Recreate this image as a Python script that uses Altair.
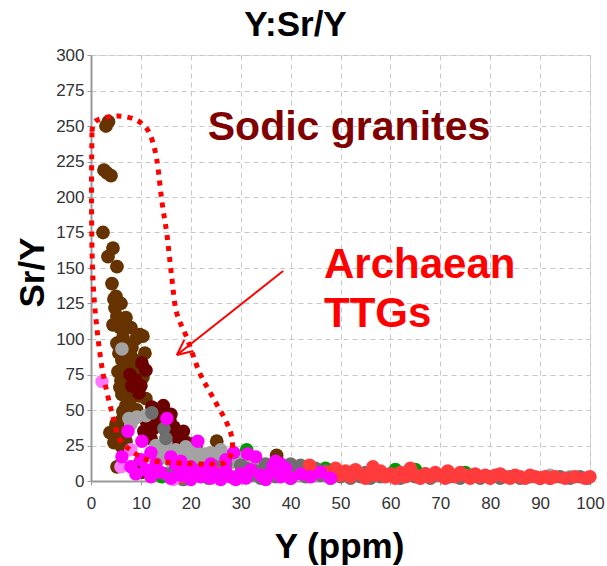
import altair as alt
import pandas as pd

FONT = "Liberation Sans"

# ---------------- data (Y ppm, Sr/Y) ----------------
brown_x = [3.5, 3.0, 3.2, 2.6, 4.0, 2.4, 4.4, 3.4, 5.2, 4.2, 4.8, 5.2, 4.4, 5.8, 9.8, 10.4, 6.4, 5.2, 8.2,
           6.2, 7.4, 5.4, 10.4, 6.6, 8.4, 6.2, 7.8, 6.4, 9.2, 6.2, 3.8, 5.8, 6.2, 5.2, 9.8, 19.2, 20.4,
           25.2, 37.2, 7.0, 8.0, 9.0, 7.0, 8.5, 11.0, 18.5, 10.2,
           5.0, 6.0, 4.6, 7.0, 6.0, 8.0, 9.0, 5.6, 7.0, 8.8, 6.8, 9.4, 7.2, 5.8, 9.6, 8.0, 7.0, 5.0,
           6.6, 4.6, 7.0, 8.0, 10.8, 6.0, 7.6]
brown_y = [253, 250, 217, 219, 215, 175, 164, 158, 151, 139, 122, 116, 110, 108, 103, 102, 101, 97, 94,
           85, 82, 77, 73, 69, 66, 61, 57, 49, 50, 43, 34, 32, 24, 10, 13, 27, 26,
           28, 18, 90, 75, 62, 53, 44, 58, 22, 6,
           130, 125, 128, 115, 112, 108, 100, 90, 96, 85, 78, 78, 70, 66, 60, 50, 47, 40,
           36, 27, 28, 88, 90, 71, 62]

maroon_x = [10.2, 7.8, 8.2, 10.0, 9.0, 12.2, 13.4, 15.8, 11.2, 14.0, 16.6, 10.6, 15.2, 17.8, 13.0, 12.0,
            17.0, 19.2, 21.0, 24.4, 26.4, 14.5, 16.0, 11.0, 9.6, 13.6, 15.0, 12.5, 16.5, 18.5]
maroon_y = [83, 75, 67, 67, 71, 52, 48, 43, 41, 39, 38, 35, 33, 32, 45, 30,
            27, 26, 24, 20, 18, 53, 47, 78, 62, 40, 36, 37, 30, 35]

lgray_x = [6.2, 9.2, 7.6, 8.0, 11.0, 13, 14, 15, 16, 17, 18, 19, 20, 21, 22, 23, 24, 25, 26, 27, 28, 29,
           30, 31, 32, 33, 34, 35, 36, 12, 14, 16, 18, 20, 22, 24, 26, 19, 23, 30, 40, 96, 92]
lgray_y = [93, 45, 44, 40, 46, 25, 22, 27, 20, 22, 19, 24, 18, 21, 17, 19, 15, 18, 14, 16, 13, 15,
           12, 14, 11, 13, 12, 10, 11, 18, 16, 14, 17, 14, 13, 20, 22, 12, 11, 16, 4, 3, 4]

dgray_x = [12.2, 14.6, 15, 13, 15, 17, 19, 21, 22, 24, 26, 28, 30, 31, 32, 33, 34, 35, 36, 37, 38, 39,
           40, 41, 42, 43, 44, 45, 46, 47, 48, 49, 50, 51, 52, 53, 54, 55, 56, 57, 58, 60, 62, 63, 65,
           67, 68, 70, 72, 74, 76, 78, 80, 82, 84, 86, 88, 90, 92, 94, 96, 98, 99.5, 30, 27, 25, 35,
           36, 40, 42, 44, 23.5, 18.5]
dgray_y = [48, 37, 30, 8, 5, 9, 6, 4, 8, 5, 7, 3, 6, 9, 4, 7, 2, 5, 8, 3, 6, 10,
           2, 5, 8, 3, 6, 9, 4, 7, 2, 5, 3, 6, 2, 5, 3, 6, 2, 4, 3, 5, 2, 4, 3,
           5, 2, 4, 3, 2, 4, 2, 3, 2, 3, 2, 3, 2, 2, 3, 2, 3, 2, 11, 12, 10, 12,
           9, 12, 11, 10, 2, 1]

pink_x = [2.2, 6.0, 8.0, 24.0, 16.5]
pink_y = [70, 10, 22, 4, 1]

magenta_x = [7.4, 6.2, 15.2, 10.2, 21.4, 28.6, 31.4, 33, 38, 8, 9, 10, 11, 12, 13, 14, 16, 17, 18, 19,
             20, 21, 22, 23, 24, 25, 26, 27, 28, 29, 30, 31, 32, 34, 35, 36, 37, 38, 39, 40, 42, 44,
             46, 48, 12, 16, 20, 24, 27, 18, 36.5]
magenta_y = [35, 17, 44, 28, 28, 20, 19, 17, 12, 10, 5, 15, 8, 3, 12, 6, 2, 11, 4, 8,
             1, 6, 3, 9, 2, 5, 1, 7, 3, 1, 5, 2, 8, 4, 1, 6, 14, 3, 9, 2, 5, 3,
             6, 2, 20, 17, 10, 12, 15, 14, 11]

red_x = [18, 25, 43.8, 47, 49, 50, 51, 52, 53, 54, 55, 56, 57, 58, 59, 60, 61, 62, 63, 64, 65, 66, 67,
         68, 69, 70, 71, 72, 73, 74, 75, 76, 77, 78, 79, 80, 81, 82, 83, 84, 85, 86, 87, 88, 89, 90,
         91, 92, 93, 95, 97, 99, 100, 64, 56.5, 71.5]
red_y = [3, 6, 11, 6, 9, 4, 7, 3, 8, 5, 2, 6, 4, 7, 3, 5, 2, 6, 3, 7, 4, 2, 5,
         3, 6, 4, 2, 5, 3, 6, 4, 2, 5, 3, 4, 2, 4, 5, 3, 2, 4, 3, 2, 4, 3, 2,
         3, 2, 3, 2, 3, 2, 3, 9, 10, 7]

green_x = [31.2, 14.2, 47, 61, 75, 48, 16, 65]
green_y = [22, 3, 9, 8, 6, 5, 5, 8]

group_names = ["brown", "maroon", "green", "lightgray", "darkgray", "red", "pink", "magenta"]
group_colors = ["#663300", "#6b0000", "#009900", "#a3a3a3", "#6e6e6e", "#ff3b3b", "#ff77ff", "#ff00ff"]
group_sizes = [190, 180, 45, 90, 60, 40, 50, 50]
group_data = [(brown_x, brown_y), (maroon_x, maroon_y), (green_x, green_y), (lgray_x, lgray_y),
              (dgray_x, dgray_y), (red_x, red_y), (pink_x, pink_y), (magenta_x, magenta_y)]

# dotted outline around the Archaean TTG field (data units)
outline_x = [0.2, 0.8, 5.2, 9.2, 11.4, 12.8, 13.4, 14.2, 15.2, 16.2, 17.2, 19.2, 21.8, 24.4, 27.2, 28.2,
             28.2, 26.8, 23.2, 16.4, 11.2, 7.8, 5.8, 4.2, 2.4, 1.2, 0.4, 0.1, 0.2]
outline_y = [246, 253, 257, 254, 247, 233, 221, 197, 174, 143, 118, 101, 76, 59, 41, 31,
             20, 13, 12, 13, 15, 22, 29, 48, 76, 107, 141, 200, 246]

# arrow (shaft and two head strokes), data units
arrow_x1 = [38.5, 17.2, 17.2]
arrow_y1 = [147.9, 88.7, 88.7]
arrow_x2 = [17.2, 18.7, 20.5]
arrow_y2 = [88.7, 99.4, 91.5]

label_text = ["Sodic granites", "Archaean", "TTGs"]
label_x = [23.4, 46.7, 46.7]
label_y = [240, 143, 108.5]

x_ticks = [0, 10, 20, 30, 40, 50, 60, 70, 80, 90, 100]
y_ticks = [0, 25, 50, 75, 100, 125, 150, 175, 200, 225, 250, 275, 300]

# ---------------- tables ----------------
rows = []
for rank, (g, (xs, ys)) in enumerate(zip(group_names, group_data)):
    for xv, yv in zip(xs, ys):
        rows.append({"Y": xv, "SrY": yv, "group": g, "rank": rank})
pts = pd.DataFrame(rows)
outline_df = pd.DataFrame({"Y": outline_x, "SrY": outline_y, "i": list(range(len(outline_x)))})
arrow_df = pd.DataFrame({"Y": arrow_x1, "SrY": arrow_y1, "Y2": arrow_x2, "SrY2": arrow_y2})
label_df = pd.DataFrame({"Y": label_x, "SrY": label_y, "text": label_text})

x_scale = alt.Scale(domain=[0, 100], nice=False, zero=False)
y_scale = alt.Scale(domain=[0, 300], nice=False, zero=False)

common_axis = dict(labelFont=FONT, labelFontSize=17, labelColor="#333333", tickSize=4, tickColor="#999999",
                   domainColor="#999999", domainWidth=2, gridColor="#c8c8c8", gridDash=[5, 4],
                   titleFont=FONT, titleFontSize=35, titleFontWeight="bold", titleColor="#000000",
                   labelOverlap=False, labelFlush=False)
x_axis = alt.Axis(values=x_ticks, labelPadding=10, titleX=248, titleY=76, titleBaseline="alphabetic",
                  titleAlign="center", **common_axis)
y_axis = alt.Axis(values=y_ticks, labelPadding=3, titleX=-48, titleY=217, titleAngle=270,
                  titleBaseline="alphabetic", titleAlign="center", **common_axis)

X = alt.X("Y:Q", scale=x_scale, axis=x_axis, title="Y (ppm)")
Yc = alt.Y("SrY:Q", scale=y_scale, axis=y_axis, title="Sr/Y")

points = alt.Chart(pts).mark_circle(opacity=1).encode(
    x=X, y=Yc,
    color=alt.Color("group:N", scale=alt.Scale(domain=group_names, range=group_colors), legend=None),
    size=alt.Size("group:N", scale=alt.Scale(domain=group_names, range=group_sizes), legend=None),
    order=alt.Order("rank:Q"),
)

outline = alt.Chart(outline_df).mark_line(
    color="#ff0000", strokeWidth=5, strokeDash=[5, 6], interpolate="catmull-rom"
).encode(x=X, y=Yc, order=alt.Order("i:Q"))

arrow = alt.Chart(arrow_df).mark_rule(color="#ff0000", strokeWidth=2).encode(
    x=X, y=Yc, x2="Y2:Q", y2="SrY2:Q"
)

labels1 = alt.Chart(label_df).transform_filter(alt.datum.text == "Sodic granites").mark_text(
    align="left", baseline="alphabetic", font=FONT, fontSize=41, fontWeight="bold", color="#800000"
).encode(x=X, y=Yc, text="text:N")
labels2 = alt.Chart(label_df).transform_filter(alt.datum.text != "Sodic granites").mark_text(
    align="left", baseline="alphabetic", font=FONT, fontSize=42, fontWeight="bold", color="#ff0000"
).encode(x=X, y=Yc, text="text:N")

chart = alt.layer(points, outline, arrow, labels1, labels2).properties(
    width=499, height=426,
    title=alt.Title("Y:Sr/Y", font=FONT, fontSize=35, fontWeight="bold", color="#000000",
                    anchor="middle", dx=-45, dy=34, offset=9, baseline="alphabetic"),
    padding={"left": 91, "top": 55, "right": 17, "bottom": 85},
    autosize=alt.AutoSizeParams(type="none"),
).configure_view(stroke="#999999", strokeWidth=2).configure(background="white")

chart.save("out.html", embed_options={"renderer": "svg", "actions": False})
